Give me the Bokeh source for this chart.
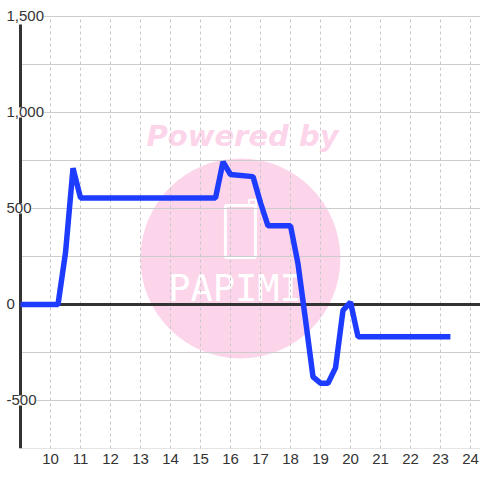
from bokeh.plotting import figure
from bokeh.models import Range1d, FixedTicker
from bokeh.core.properties import value
from bokeh.embed import file_html
from bokeh.resources import INLINE

# ---- data ----
hours = [9.0, 10.25, 10.5, 10.75, 11.0, 15.5, 15.75, 16.0, 16.75, 17.0, 17.25,
         18.0, 18.25, 18.5, 18.75, 19.0, 19.25, 19.5, 19.75, 20.0, 20.25, 23.33]
values = [0, 0, 270, 710, 555, 555, 743, 677, 666, 530, 410,
          410, 212, -80, -377, -410, -410, -330, -30, 12, -168, -168]

x_ticks = list(range(10, 25))
y_ticks = [-500, 0, 500, 1000, 1500]
y_tick_labels = ["-500", "0", "500", "1,000", "1,500"]
y_grid = [-750, -500, -250, 0, 250, 500, 750, 1000, 1250, 1500]

X_MIN, X_MAX = 9.0, 24.333
Y_MIN, Y_MAX = -750, 1500

FONT = value("Liberation Sans")
PINK = "#fcd5ea"
BLUE = "#1e3cff"
DARK = "#333333"

p = figure(frame_width=480, frame_height=448, output_backend="svg",
           toolbar_location=None, min_border=0,
           x_range=Range1d(8.333, X_MAX), y_range=Range1d(Y_MIN, 1583.3))
p.outline_line_color = None
p.background_fill_color = "white"
p.xgrid.visible = False
p.ygrid.visible = False
p.yaxis.visible = False

ax = p.xaxis[0]
ax.ticker = FixedTicker(ticks=x_ticks)
ax.axis_line_color = None
ax.major_tick_line_color = None
ax.minor_tick_line_color = None
ax.major_tick_out = 0
ax.major_label_standoff = 5
ax.major_label_text_font = "Liberation Sans"
ax.major_label_text_font_size = "15px"
ax.major_label_text_color = DARK

# ---- watermark ----
p.scatter([16.33], [240], size=200, marker="circle", fill_color=PINK, line_color=None)
p.text([16.4], [880], text=["Powered by"], text_align="center", text_baseline="middle",
       text_font=value("DejaVu Sans"), text_font_style="bold italic",
       text_font_size="29px", text_color=PINK)
p.rect([16.33], [380], width=30, height=52, width_units="screen", height_units="screen",
       fill_color=None, line_color="white", line_width=3)
p.rect([16.73], [530], width=7, height=6, width_units="screen", height_units="screen",
       fill_color=None, line_color="white", line_width=2)
p.text([16.15], [83], text=["PAPIMI"], text_align="center", text_baseline="middle",
       text_font=value("DejaVu Sans Mono"), text_font_size="37px", text_color="white")

# ---- grid ----
p.segment(x0=[X_MIN] * len(y_grid), y0=y_grid, x1=[X_MAX] * len(y_grid), y1=y_grid,
          line_color="#cccccc", line_width=1)
p.segment(x0=x_ticks, y0=[Y_MIN] * len(x_ticks), x1=x_ticks, y1=[Y_MAX] * len(x_ticks),
          line_color="#c8c8c8", line_width=1, line_dash="3 3")

# zero line and y axis line
p.segment(x0=[X_MIN], y0=[0], x1=[X_MAX], y1=[0], line_color=DARK, line_width=3)
p.segment(x0=[X_MIN], y0=[Y_MIN], x1=[X_MIN], y1=[1458], line_color=DARK, line_width=3)

# y labels
p.text(x=[X_MIN] * len(y_ticks), y=y_ticks, text=y_tick_labels, x_offset=-14,
       text_align="left", text_baseline="middle", text_font=FONT,
       text_font_size="15px", text_color=DARK, background_fill_color="white")

# ---- series ----
p.line(hours, values, line_color=BLUE, line_width=5.5, line_join="bevel")

open("out.html", "w").write(file_html(p, INLINE))
